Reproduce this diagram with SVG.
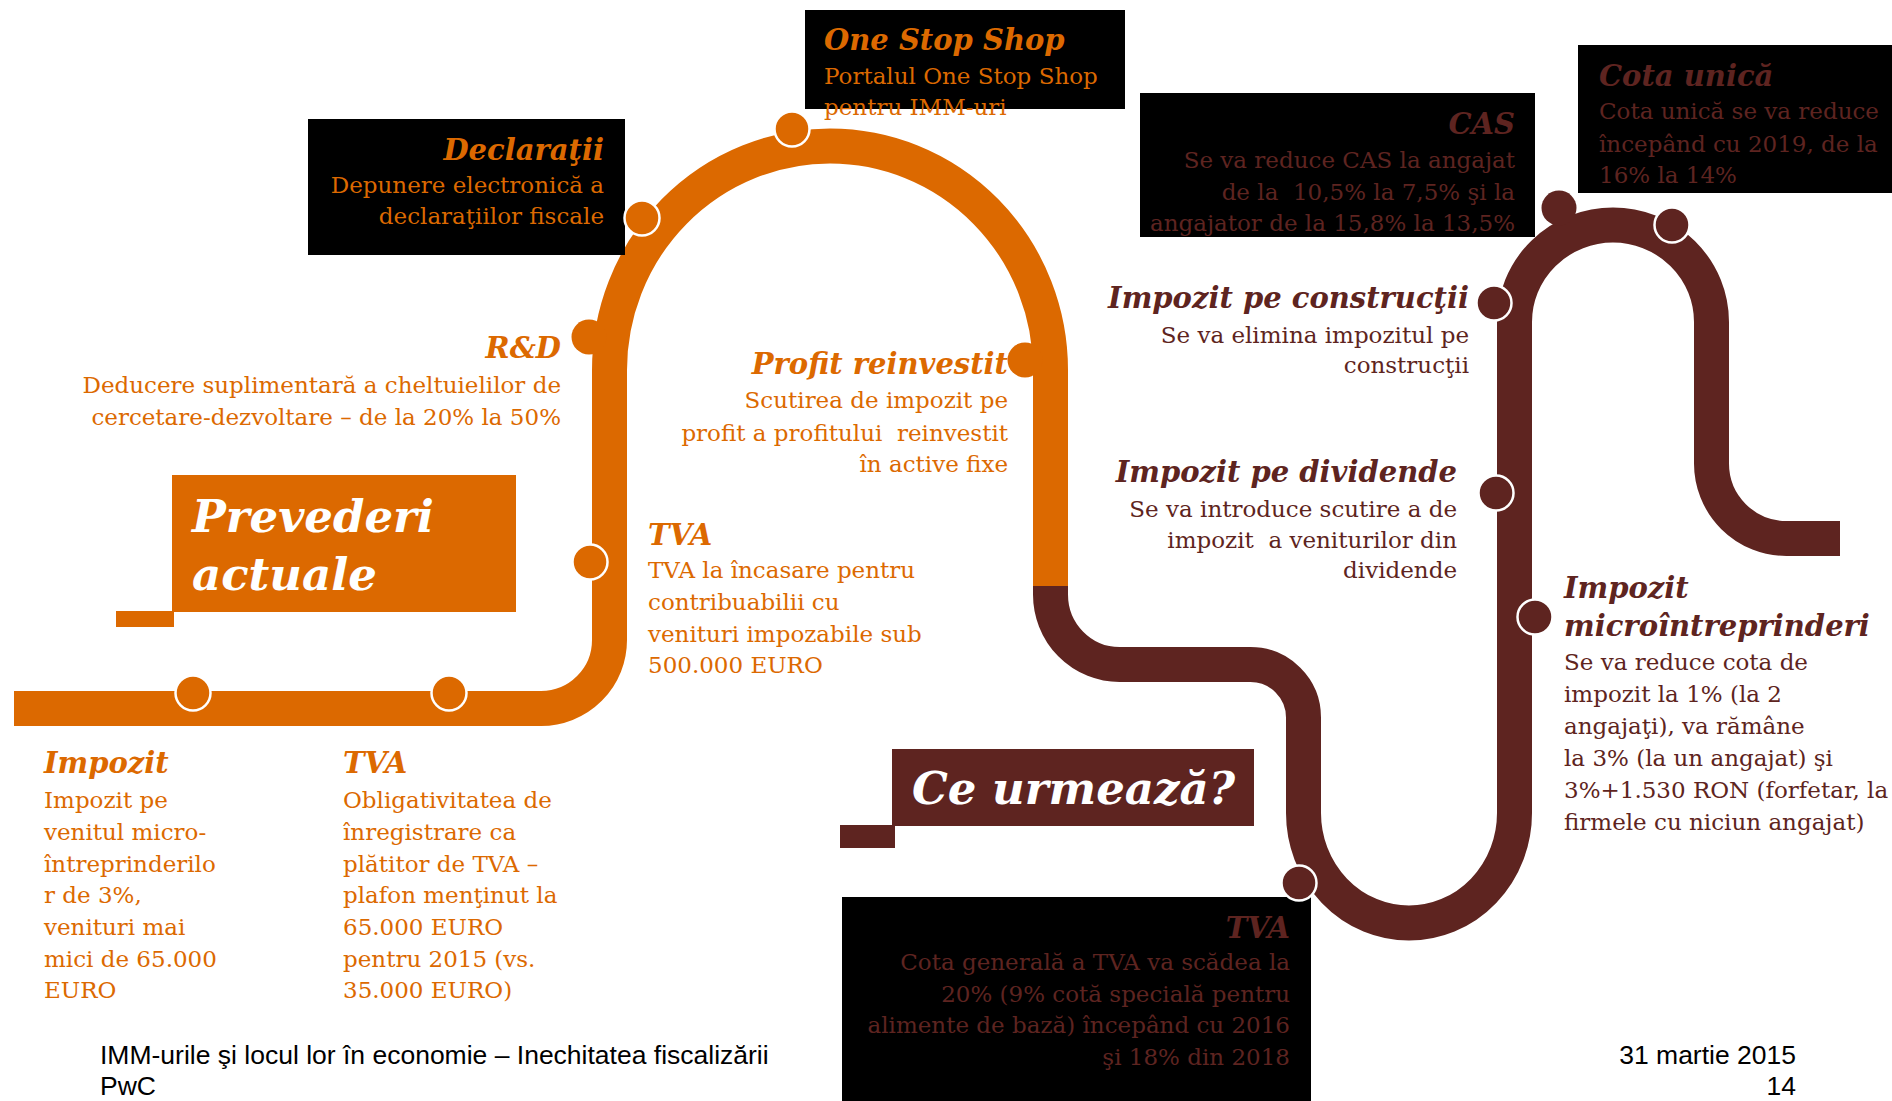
<svg xmlns="http://www.w3.org/2000/svg" width="1892" height="1101" viewBox="0 0 1892 1101">
<defs>
<style>
.t{font-family:"DejaVu Serif",Georgia,serif}
.h{font-weight:bold;font-style:italic;font-size:29px}
.b{font-size:23px}
.or{fill:#DC6900}
.br{fill:#5E2420}
.big{font-family:"DejaVu Serif",Georgia,serif;font-weight:bold;font-style:italic;font-size:45px;fill:#fff}
.foot{font-family:"Liberation Sans",Arial,sans-serif;font-size:26.5px;fill:#000}
.end{text-anchor:end}
.trk{fill:none;stroke-width:35;stroke-linecap:butt}
.dor{fill:#DC6900}
.dbr{fill:#5E2420}
.ring{stroke:#fff;stroke-width:2.5}
</style>
</defs>
<rect width="1892" height="1101" fill="#fff"/>

<g id="connectors">
<path class="trk" stroke="#DC6900" d="M14 708.5 H541 A68.5 68.5 0 0 0 609.5 640 V370 A220.5 224 0 0 1 1050.5 370 V586.5"/>
<path class="trk" stroke="#5E2420" d="M1050.5 586 V594.5 A69 70 0 0 0 1119.5 664.5 H1250.5 A53 53 0 0 1 1303.5 717.5 V813 A105.5 110 0 0 0 1514.5 813 V322 A98.5 97 0 0 1 1711.5 322 V463.5 A75 75 0 0 0 1786.5 538.5 H1840"/>
</g>

<g id="prevederi-actuale">
<rect x="172" y="475" width="344" height="137" fill="#DC6900"/>
<rect x="116" y="611" width="58" height="16" fill="#DC6900"/>
<text class="big" x="192" y="532">Prevederi</text>
<text class="big" x="192" y="590">actuale</text>
</g>

<g id="ce-urmeaza">
<rect x="892" y="749" width="362" height="77" fill="#5E2420"/>
<rect x="840" y="825" width="55" height="23" fill="#5E2420"/>
<text class="big" x="912" y="804">Ce urmează?</text>
</g>

<g id="impozit-micro-actual">
<circle class="dor ring" cx="193" cy="693" r="17.5"/>
<text class="t h or" x="44" y="773">Impozit</text>
<text class="t b or" x="44" y="808">Impozit pe</text>
<text class="t b or" x="44" y="840">venitul micro-</text>
<text class="t b or" x="44" y="872">întreprinderilo</text>
<text class="t b or" x="44" y="903">r de 3%,</text>
<text class="t b or" x="44" y="935">venituri mai</text>
<text class="t b or" x="44" y="967">mici de 65.000</text>
<text class="t b or" x="44" y="998">EURO</text>
</g>

<g id="tva-plafon">
<circle class="dor ring" cx="449" cy="693" r="17.5"/>
<text class="t h or" x="343" y="773">TVA</text>
<text class="t b or" x="343" y="808">Obligativitatea de</text>
<text class="t b or" x="343" y="840">înregistrare ca</text>
<text class="t b or" x="343" y="872">plătitor de TVA –</text>
<text class="t b or" x="343" y="903">plafon menţinut la</text>
<text class="t b or" x="343" y="935">65.000 EURO</text>
<text class="t b or" x="343" y="967">pentru 2015 (vs.</text>
<text class="t b or" x="343" y="998">35.000 EURO)</text>
</g>

<g id="tva-incasare">
<circle class="dor ring" cx="590" cy="562" r="17.5"/>
<text class="t h or" x="648" y="545">TVA</text>
<text class="t b or" x="648" y="578">TVA la încasare pentru</text>
<text class="t b or" x="648" y="610">contribuabilii cu</text>
<text class="t b or" x="648" y="642">venituri impozabile sub</text>
<text class="t b or" x="648" y="673">500.000 EURO</text>
</g>

<g id="rd">
<circle class="dor" cx="589" cy="337" r="17.5"/>
<text class="t h or end" x="561" y="358">R&amp;D</text>
<text class="t b or end" x="561" y="393">Deducere suplimentară a cheltuielilor de</text>
<text class="t b or end" x="561" y="425">cercetare-dezvoltare – de la 20% la 50%</text>
</g>

<g id="declaratii">
<rect x="308" y="119" width="317" height="136" fill="#000"/>
<circle class="dor ring" cx="642" cy="218" r="17.5"/>
<text class="t h or end" x="604" y="160">Declaraţii</text>
<text class="t b or end" x="604" y="193">Depunere electronică a</text>
<text class="t b or end" x="604" y="224">declaraţiilor fiscale</text>
</g>

<g id="one-stop-shop">
<rect x="805" y="10" width="320" height="99" fill="#000"/>
<circle class="dor ring" cx="792" cy="129" r="17.5"/>
<text class="t h or" x="824" y="50">One Stop Shop</text>
<text class="t b or" x="824" y="84">Portalul One Stop Shop</text>
<text class="t b or" x="824" y="115">pentru IMM-uri</text>
</g>

<g id="profit-reinvestit">
<circle class="dor" cx="1025" cy="360" r="17.5"/>
<text class="t h or end" x="1008" y="374">Profit reinvestit</text>
<text class="t b or end" x="1008" y="408">Scutirea de impozit pe</text>
<text class="t b or end" x="1008" y="441" xml:space="preserve">profit a profitului  reinvestit</text>
<text class="t b or end" x="1008" y="472">în active fixe</text>
</g>

<g id="tva-cota">
<rect x="842" y="897" width="469" height="204" fill="#000"/>
<circle class="dbr ring" cx="1299" cy="883" r="17.5"/>
<text class="t h br end" x="1290" y="938">TVA</text>
<text class="t b br end" x="1290" y="970">Cota generală a TVA va scădea la</text>
<text class="t b br end" x="1290" y="1002">20% (9% cotă specială pentru</text>
<text class="t b br end" x="1290" y="1033">alimente de bază) începând cu 2016</text>
<text class="t b br end" x="1290" y="1065">şi 18% din 2018</text>
</g>

<g id="impozit-dividende">
<circle class="dbr ring" cx="1496" cy="493" r="17.5"/>
<text class="t h br end" x="1457" y="482">Impozit pe dividende</text>
<text class="t b br end" x="1457" y="517">Se va introduce scutire a de</text>
<text class="t b br end" x="1457" y="548" xml:space="preserve">impozit  a veniturilor din</text>
<text class="t b br end" x="1457" y="578">dividende</text>
</g>

<g id="impozit-constructii">
<circle class="dbr ring" cx="1494" cy="303" r="17.5"/>
<text class="t h br end" x="1469" y="308">Impozit pe construcţii</text>
<text class="t b br end" x="1469" y="343">Se va elimina impozitul pe</text>
<text class="t b br end" x="1469" y="373">construcţii</text>
</g>

<g id="cas">
<rect x="1140" y="93" width="395" height="144" fill="#000"/>
<circle class="dbr" cx="1559" cy="208" r="17.5"/>
<text class="t h br end" x="1515" y="134">CAS</text>
<text class="t b br end" x="1515" y="168">Se va reduce CAS la angajat</text>
<text class="t b br end" x="1515" y="200" xml:space="preserve">de la  10,5% la 7,5% şi la</text>
<text class="t b br end" x="1515" y="231">angajator de la 15,8% la 13,5%</text>
</g>

<g id="cota-unica">
<rect x="1578" y="45" width="314" height="148" fill="#000"/>
<circle class="dbr ring" cx="1672" cy="225" r="17.5"/>
<text class="t h br" x="1599" y="86">Cota unică</text>
<text class="t b br" x="1599" y="119">Cota unică se va reduce</text>
<text class="t b br" x="1599" y="152">începând cu 2019, de la</text>
<text class="t b br" x="1599" y="183">16% la 14%</text>
</g>

<g id="impozit-microintreprinderi">
<circle class="dbr ring" cx="1535" cy="617" r="17.5"/>
<text class="t h br" x="1564" y="598">Impozit</text>
<text class="t h br" x="1564" y="636">microîntreprinderi</text>
<text class="t b br" x="1564" y="670">Se va reduce cota de</text>
<text class="t b br" x="1564" y="702">impozit la 1% (la 2</text>
<text class="t b br" x="1564" y="734">angajaţi), va rămâne</text>
<text class="t b br" x="1564" y="766">la 3% (la un angajat) şi</text>
<text class="t b br" x="1564" y="798">3%+1.530 RON (forfetar, la</text>
<text class="t b br" x="1564" y="830">firmele cu niciun angajat)</text>
</g>

<g id="footer">
<text class="foot" x="100" y="1064">IMM-urile şi locul lor în economie – Inechitatea fiscalizării</text>
<text class="foot" x="100" y="1095">PwC</text>
<text class="foot end" x="1796" y="1064">31 martie 2015</text>
<text class="foot end" x="1796" y="1095">14</text>
</g>
</svg>
